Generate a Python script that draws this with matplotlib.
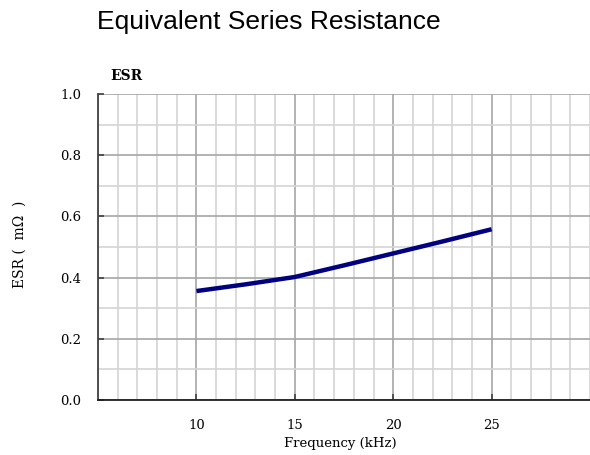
import matplotlib
matplotlib.use("Agg")
import matplotlib.pyplot as plt
from matplotlib.ticker import MultipleLocator

freq_khz = [10, 12.5, 15, 17.5, 20, 22.5, 25]
esr_mohm = [0.356, 0.378, 0.402, 0.440, 0.479, 0.518, 0.558]
x_ticks = [10, 15, 20, 25]
y_ticks = [0.0, 0.2, 0.4, 0.6, 0.8, 1.0]

serif = "DejaVu Serif"

fig = plt.figure(figsize=(5.9, 4.55), dpi=100)
ax = fig.add_axes([98/590, 1-400/455, 492/590, 306/455])

ax.set_xlim(5, 30)
ax.set_ylim(0, 1.0)

ax.xaxis.set_minor_locator(MultipleLocator(1))
ax.yaxis.set_minor_locator(MultipleLocator(0.1))
ax.set_xticks(x_ticks)
ax.set_yticks(y_ticks)
ax.set_xticklabels([str(t) for t in x_ticks], fontfamily=serif, fontsize=9.5)
ax.set_yticklabels([f"{t:.1f}" for t in y_ticks], fontfamily=serif, fontsize=9.5)

ax.grid(which="minor", color="#d4d4d4", linewidth=1.2)
ax.grid(which="major", color="#a6a6a6", linewidth=1.2)
ax.set_axisbelow(True)

ax.tick_params(which="major", direction="in", length=4, width=1.2, color="#404040", pad=12)
ax.tick_params(axis="x", which="major", pad=14)
ax.tick_params(which="minor", length=0)

for s in ["top", "right"]:
    ax.spines[s].set_visible(False)
ax.spines["left"].set_color("#404040")
ax.spines["bottom"].set_color("#202020")
ax.spines["left"].set_linewidth(1.3)
ax.spines["bottom"].set_linewidth(1.3)

ax.plot(freq_khz, esr_mohm, color="#000080", linewidth=3.2, solid_capstyle="butt", zorder=3)

ax.set_xlabel("Frequency (kHz)", fontfamily=serif, fontsize=9.5)
ax.xaxis.set_label_coords((340-98)/492, -(437-400)/306, transform=ax.transAxes)
ax.set_ylabel("ESR (  mΩ  )", fontfamily=serif, fontsize=10)
ax.yaxis.set_label_coords(-(98-27)/492, (400-244)/306)

fig.text(110/590, 1-76/455, "ESR", fontfamily=serif, fontweight="bold", fontsize=10,
         ha="left", va="center")
fig.text(97/590, 1-22/455, "Equivalent Series Resistance", fontfamily="Liberation Sans",
         fontsize=19, ha="left", va="center")

fig.savefig("out.png", dpi=100)
